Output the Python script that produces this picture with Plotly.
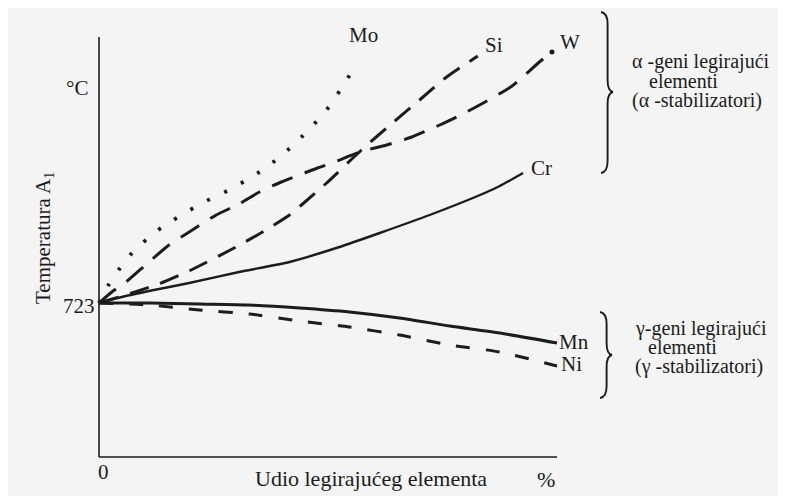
import plotly.graph_objects as go

# ---------------- data (x: alloy content in %, y: A1 temperature) ----------------
mo_x = [0, 0.22, 0.46, 0.72, 1.05, 1.38, 1.73, 2.10, 2.47, 2.84, 3.22, 3.57, 3.92, 4.22, 4.53, 4.84, 5.10, 5.32, 5.56]
mo_y = [723, 742, 758, 773, 787, 799, 809, 819, 828, 836, 846, 856, 868, 880, 894, 909, 924, 940, 957]

si_x = [0, 0.72, 1.36, 2.01, 2.95, 3.57, 4.16, 4.42, 4.97, 5.73, 6.28, 7.00, 7.59, 8.27]
si_y = [723, 733, 743, 756, 778, 794, 811, 821, 843, 876, 898, 926, 949, 970]

w_x = [0, 0.28, 0.59, 1.09, 1.53, 1.97, 2.56, 3.06, 3.50, 3.98, 4.49, 4.77, 5.14, 5.69, 6.28, 6.83, 7.44, 7.94, 8.43, 9.02, 9.30, 9.59, 9.89]
w_y = [723, 734, 744, 764, 781, 794, 811, 822, 834, 844, 853, 858, 864, 874, 881, 889, 901, 912, 924, 940, 951, 963, 974]

cr_x = [0, 0.50, 1.31, 1.97, 3.06, 4.16, 5.25, 6.13, 7.22, 8.32, 8.75, 9.26]
cr_y = [723, 729, 737, 743, 754, 764, 779, 793, 811, 831, 840, 853]

mn_x = [0, 1.09, 2.19, 3.28, 4.38, 5.47, 6.56, 7.66, 8.75, 10.0]
mn_y = [723, 723, 722, 721, 718, 714, 708, 700, 693, 683]

ni_x = [0, 1.09, 2.19, 3.28, 4.38, 5.47, 6.56, 7.66, 8.75, 10.0]
ni_y = [723, 721, 716, 712, 705, 699, 691, 681, 674, 660]

series_names = ["Mo", "Si", "W", "Cr", "Mn", "Ni"]
y_tick_label = "723"
x_tick_label = "0"

# ---------------- layout helpers (page pixel coords -> data / paper) ----------------
PAGE_W, PAGE_H = 786, 496
OFF = 8                                   # default page body margin
FIG_W, FIG_H = PAGE_W - OFF, PAGE_H - OFF
X0_PX, X_UNIT = 99, 45.8                  # page pixel of x=0, pixels per %
Y0_PX, Y_UNIT = 303, 1.0                  # page pixel of T=723, pixels per degree


def px2x(px):
    return (px - X0_PX) / X_UNIT


def py2y(py):
    return 723 + (Y0_PX - py) / Y_UNIT


def pap(px, py):
    return (px - OFF) / FIG_W, 1 - (py - OFF) / FIG_H


INK = "#1c1c1c"
FONT = "Liberation Serif, Times New Roman, DejaVu Serif, serif"

fig = go.Figure()

styles = {
    "Mo": dict(dash="3px,16px", width=3.8),
    "Si": dict(dash="20px,12px", width=3),
    "W": dict(dash="22px,13px", width=3),
    "Cr": dict(dash="solid", width=2.4),
    "Mn": dict(dash="solid", width=3),
    "Ni": dict(dash="14px,16px", width=3),
}
data = {"Mo": (mo_x, mo_y), "Si": (si_x, si_y), "W": (w_x, w_y),
        "Cr": (cr_x, cr_y), "Mn": (mn_x, mn_y), "Ni": (ni_x, ni_y)}

for name in series_names:
    xs, ys = data[name]
    st = styles[name]
    fig.add_trace(go.Scatter(
        x=xs, y=ys, mode="lines", name=name, showlegend=False,
        line=dict(color=INK, width=st["width"], dash=st["dash"], shape="spline", smoothing=0.6),
        hoverinfo="skip"))

# tip dot at the end of the W curve
fig.add_trace(go.Scatter(x=[w_x[-1]], y=[w_y[-1]], mode="markers", showlegend=False,
                         marker=dict(color=INK, size=5), hoverinfo="skip"))

shapes = []
# axes
shapes.append(dict(type="line", xref="x", yref="y", x0=0, x1=0, y0=py2y(457), y1=py2y(37),
                   line=dict(color=INK, width=1.6)))
shapes.append(dict(type="line", xref="x", yref="y", x0=0, x1=px2x(557), y0=py2y(457), y1=py2y(457),
                   line=dict(color=INK, width=1.6)))


def brace(x0, ytop, ymid, ybot, w=12, r=12):
    def P(px, py):
        a, b = pap(px, py)
        return f"{a:.5f},{b:.5f}"
    xs = x0 + w * 0.55
    xc = x0 + w
    path = (f"M{P(x0, ytop)} Q{P(xs, ytop + 1)} {P(xs, ytop + r)} "
            f"L{P(xs, ymid - r)} Q{P(xs, ymid - 1)} {P(xc, ymid)} "
            f"Q{P(xs, ymid + 1)} {P(xs, ymid + r)} "
            f"L{P(xs, ybot - r)} Q{P(xs, ybot - 1)} {P(x0, ybot)}")
    return dict(type="path", xref="paper", yref="paper", path=path,
                line=dict(color=INK, width=1.9))


shapes.append(brace(601, 12, 92, 173))
shapes.append(brace(600, 312, 355, 398))

ann = []


def text(t, px, py, size=21, xanchor="center", angle=0):
    a, b = pap(px, py)
    ann.append(dict(text=t, x=a, y=b, xref="paper", yref="paper",
                    xanchor=xanchor, yanchor="middle", showarrow=False, textangle=angle,
                    font=dict(family=FONT, size=size, color=INK)))


# curve labels
text("Mo", 363, 35)
text("Si", 494, 45)
text("W", 570, 42)
text("Cr", 541, 168)
text("Mn", 574, 342)
text("Ni", 571, 364)
# axis texts
text("°C", 77, 88)
text(y_tick_label, 79, 306)
text(x_tick_label, 103, 472)
text("Udio legirajućeg elementa", 371, 478, size=22)
text("%", 546, 479, size=22)
text("Temperatura A<sub>1</sub>", 44, 238, angle=-90)
# group labels
text("α -geni legirajući", 630, 62, size=20, xanchor="left")
text("elementi", 647, 81, size=20, xanchor="left")
text("(α -stabilizatori)", 630, 100, size=20, xanchor="left")
text("γ-geni legirajući", 633, 328, size=20, xanchor="left")
text("elementi", 646, 347, size=20, xanchor="left")
text("(γ -stabilizatori)", 633, 366, size=20, xanchor="left")

fig.update_layout(
    width=FIG_W, height=FIG_H,
    margin=dict(l=0, r=0, t=0, b=0),
    paper_bgcolor="#f4f4f4", plot_bgcolor="rgba(0,0,0,0)",
    xaxis=dict(range=[px2x(OFF), px2x(PAGE_W)], visible=False, fixedrange=True),
    yaxis=dict(range=[py2y(PAGE_H), py2y(OFF)], visible=False, fixedrange=True),
    shapes=shapes, annotations=ann,
)

fig.write_html("out.html")
